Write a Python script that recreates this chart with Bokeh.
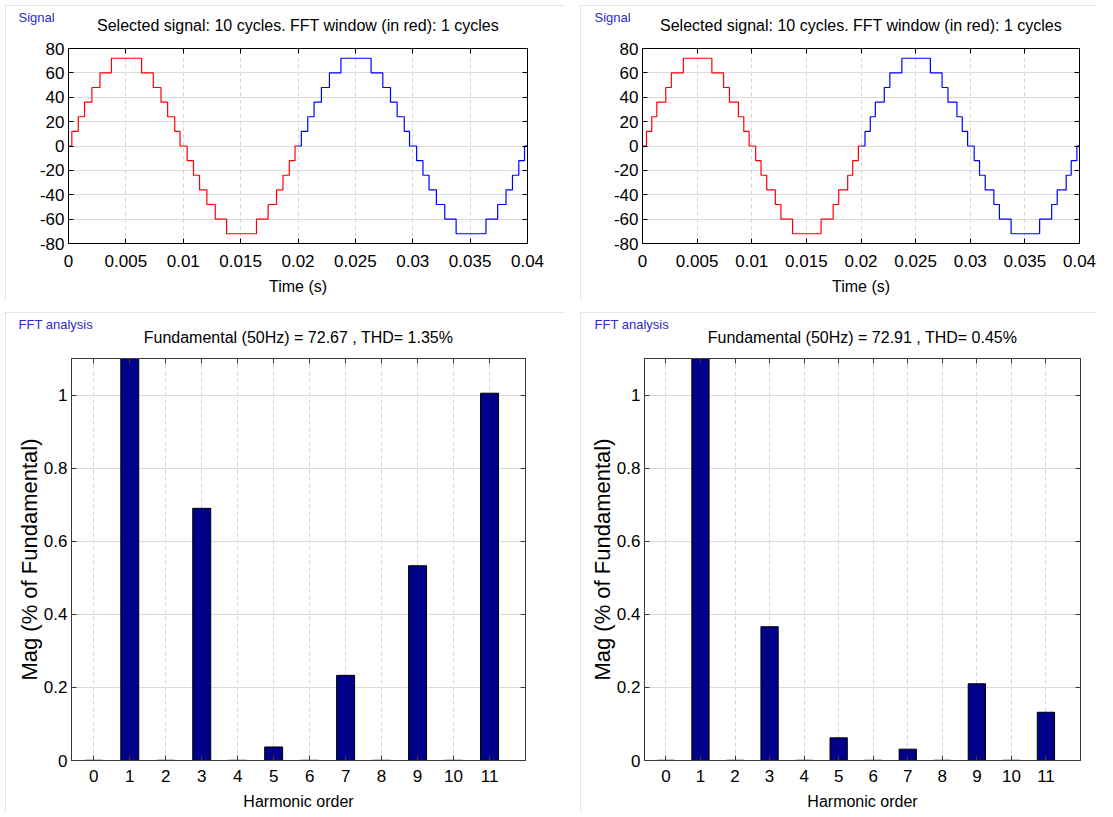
from bokeh.plotting import figure
from bokeh.models import LinearAxis, FixedTicker, Range1d
from bokeh.layouts import row, column
from bokeh.embed import file_html
from bokeh.resources import INLINE

FONT = "Liberation Sans"

# ---------------- data ----------------
period = 0.02
# one cycle of the staircase signal: step instants (s) and level after each step
left_step_t = [0, 0.00029, 0.00085, 0.0014, 0.00204, 0.00274, 0.00374, 0.00637, 0.00739,
               0.00806, 0.00864, 0.00926, 0.00972, 0.01034, 0.01089, 0.01142, 0.01206,
               0.01279, 0.01378, 0.01638, 0.0174, 0.01813, 0.01869, 0.01924, 0.01974]
right_step_t = [0, 0.000365, 0.00085, 0.00131, 0.00213, 0.00264, 0.00374, 0.00635, 0.00742,
                0.00796, 0.00878, 0.00927, 0.00976, 0.01036, 0.01085, 0.01137, 0.01216,
                0.01267, 0.01374, 0.01635, 0.01745, 0.01796, 0.01878, 0.01924, 0.01976]
step_levels = [0, 12, 24, 36, 48, 60, 72, 60, 48, 36, 24, 12, 0, -12, -24, -36, -48, -60,
               -72, -60, -48, -36, -24, -12, 0]

time_ticks = [0, 0.005, 0.01, 0.015, 0.02, 0.025, 0.03, 0.035, 0.04]
time_tick_labels = ["0", "0.005", "0.01", "0.015", "0.02", "0.025", "0.03", "0.035", "0.04"]
sig_ticks = [-80, -60, -40, -20, 0, 20, 40, 60, 80]
sig_tick_labels = ["-80", "-60", "-40", "-20", "0", "20", "40", "60", "80"]

harmonics = list(range(12))
harmonic_labels = [str(h) for h in harmonics]
mag_left = [0.0, 100.0, 0.0, 0.69, 0.0, 0.037, 0.0, 0.233, 0.0, 0.533, 0.0, 1.005]
mag_right = [0.0, 100.0, 0.0, 0.366, 0.0, 0.062, 0.0, 0.031, 0.0, 0.21, 0.0, 0.132]
mag_ticks = [0, 0.2, 0.4, 0.6, 0.8, 1.0]
mag_tick_labels = ["0", "0.2", "0.4", "0.6", "0.8", "1"]

signal_title = "Selected signal: 10 cycles. FFT window (in red): 1 cycles"
fft_title_left = "Fundamental (50Hz) = 72.67 , THD= 1.35%"
fft_title_right = "Fundamental (50Hz) = 72.91 , THD= 0.45%"
signal_tag = "Signal"
fft_tag = "FFT analysis"

PANEL_STYLE = {"outline": "1px solid #dcdcdc", "outline-offset": "-1px"}
BLUE_TXT = "#2b2bc8"


def style_axis(ax, ticks, labels, color, standoff, show_labels=True):
    ax.ticker = FixedTicker(ticks=ticks)
    ax.major_tick_in = 5
    ax.major_tick_out = 0
    ax.minor_tick_in = 0
    ax.minor_tick_out = 0
    ax.axis_line_color = color
    ax.major_tick_line_color = color
    ax.major_label_standoff = standoff
    if show_labels:
        ax.major_label_overrides = {t: l for t, l in zip(ticks, labels)}
        ax.major_label_text_font = FONT
        ax.major_label_text_font_size = "17px"
        ax.major_label_text_color = "black"
    else:
        ax.major_label_text_color = None
        ax.major_label_text_font_size = "0px"
    ax.axis_label_text_font = FONT
    ax.axis_label_text_font_size = "16px"
    ax.axis_label_text_font_style = "normal"
    ax.axis_label_text_color = "black"


def make_fig(width, height, bl, br, bt, bb, xr, yr, frame_color, margin):
    p = figure(width=width, height=height, x_range=xr, y_range=yr,
               output_backend="svg", toolbar_location=None,
               min_border_left=bl, min_border_right=br,
               min_border_top=bt, min_border_bottom=bb,
               background_fill_color="white", border_fill_color="white",
               margin=margin)
    p.styles = PANEL_STYLE
    p.outline_line_color = frame_color
    p.outline_line_alpha = 1.0
    return p


def add_frame_axes(p, xt, xl, yt, yl, color, xstand, ystand, main_text, main_standoff):
    xax = p.xaxis[0]
    yax = p.yaxis[0]
    style_axis(xax, xt, xl, color, xstand)
    style_axis(yax, yt, yl, color, ystand)
    top = LinearAxis()
    style_axis(top, xt, xl, color, 0, show_labels=False)
    # the chart heading sits on the (label-less) top axis
    top.axis_label = main_text
    top.axis_label_standoff = main_standoff
    p.add_layout(top, "above")
    right = LinearAxis()
    style_axis(right, yt, yl, color, 0, show_labels=False)
    p.add_layout(right, "right")
    p.xgrid.ticker = FixedTicker(ticks=xt)
    p.ygrid.ticker = FixedTicker(ticks=yt)
    p.xgrid.grid_line_color = "#d4d4d4"
    p.xgrid.grid_line_dash = "4 3"
    p.ygrid.grid_line_color = "#dadada"
    return xax, yax


def add_tag(p, tag_text, tag_offset, tag_standoff):
    p.title.text = tag_text
    p.title.align = "left"
    p.title.offset = tag_offset
    p.title.text_font = FONT
    p.title.text_font_size = "13px"
    p.title.text_font_style = "normal"
    p.title.text_color = BLUE_TXT
    p.title.standoff = tag_standoff


def signal_panel(step_t, width, bl, br, margin, tag_offset):
    p = make_fig(width, 295, bl, br, 43, 57, Range1d(0, 0.04), Range1d(-80, 80),
                 "black", margin)
    xax, yax = add_frame_axes(p, time_ticks, time_tick_labels, sig_ticks, sig_tick_labels,
                              "black", 11, 4, signal_title, 15)
    add_tag(p, signal_tag, tag_offset, -22)
    xax.axis_label = "Time (s)"
    xax.axis_label_standoff = 8
    red_x = list(step_t) + [period]
    red_y = list(step_levels) + [0]
    blue_x = [t + period for t in step_t] + [2 * period]
    blue_y = list(step_levels) + [0]
    p.step(red_x, red_y, mode="after", line_color="#ff0000", line_width=1.2)
    p.step(blue_x, blue_y, mode="after", line_color="#0000ff", line_width=1.2)
    return p


def fft_panel(mags, title, width, bl, br, margin, tag_offset):
    p = make_fig(width, 500, bl, br, 46, 51, Range1d(-0.62, 12), Range1d(0, 1.1),
                 "#3a3a3a", margin)
    xax, yax = add_frame_axes(p, harmonics, harmonic_labels, mag_ticks, mag_tick_labels,
                              "#3a3a3a", 9, 4, title, 13)
    add_tag(p, fft_tag, tag_offset, -12)
    xax.axis_label = "Harmonic order"
    xax.axis_label_standoff = 8
    yax.axis_label = "Mag (% of Fundamental)"
    yax.axis_label_text_font_size = "22px"
    yax.axis_label_standoff = -1
    p.vbar(x=harmonics, top=mags, bottom=0, width=0.5, fill_color="#00008b",
           line_color="black", line_width=1)
    p.segment(x0=[h - 0.25 for h in harmonics], y0=[0] * len(harmonics),
              x1=[h + 0.25 for h in harmonics], y1=[0] * len(harmonics),
              line_color="#222222", line_width=1.5)
    return p


p1 = signal_panel(left_step_t, 559, 63, 37, (5, 0, 0, 5), -50)
p2 = signal_panel(right_step_t, 517, 62, 18, (5, 0, 0, 16), -48)
p3 = fft_panel(mag_left, fft_title_left, 559, 66, 39, (12, 0, 0, 5), -53)
p4 = fft_panel(mag_right, fft_title_right, 517, 64, 17, (12, 0, 0, 16), -50)

layout = column(row(p1, p2), row(p3, p4))

open("out.html", "w").write(file_html(layout, INLINE))
